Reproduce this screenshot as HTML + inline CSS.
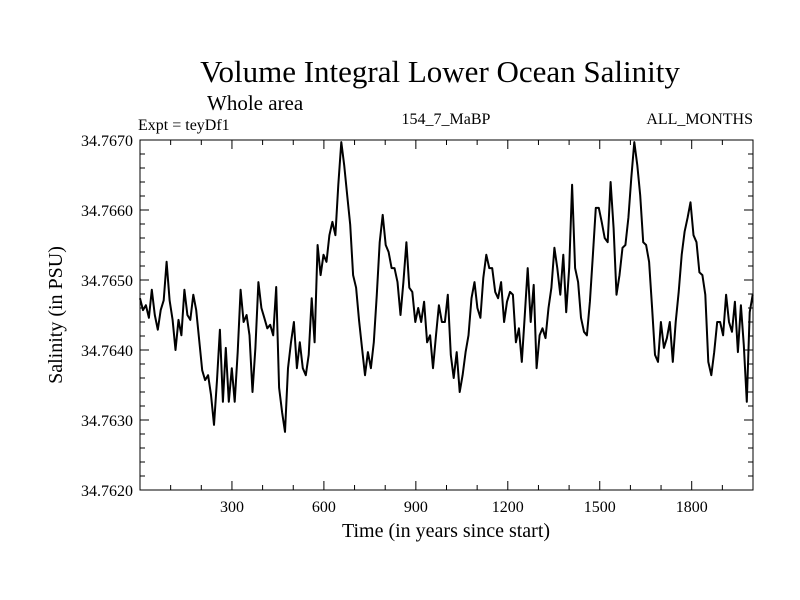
<!DOCTYPE html>
<html><head><meta charset="utf-8"><style>
body{margin:0;background:#fff}
svg{display:block;font-family:"Liberation Serif",serif}
</style></head><body>
<svg id="chart" width="800" height="600">
<rect width="800" height="600" fill="#fff"/>
<text x="440" y="82" font-size="31" text-anchor="middle">Volume Integral Lower Ocean Salinity</text>
<text x="207" y="110" font-size="21">Whole area</text>
<text x="138" y="130" font-size="16">Expt = teyDf1</text>
<text x="446" y="124" font-size="16" text-anchor="middle">154_7_MaBP</text>
<text x="753" y="124" font-size="16" text-anchor="end">ALL_MONTHS</text>
<text x="446" y="537" font-size="20" text-anchor="middle">Time (in years since start)</text>
<text transform="translate(62,315) rotate(-90)" font-size="20" text-anchor="middle">Salinity (in PSU)</text>
<g id="axes"></g>
<path id="line" fill="none" stroke="#000" stroke-width="2" stroke-linejoin="round"/>
<rect x="140" y="140" width="613" height="350" fill="none" stroke="#000" stroke-width="1"/>
</svg>
<script>
const yTicks=[34.762,34.763,34.764,34.765,34.766,34.767];
const yTickLabels=["34.7620","34.7630","34.7640","34.7650","34.7660","34.7670"];
const xTicks=[300,600,900,1200,1500,1800];
const xTickLabels=["300","600","900","1200","1500","1800"];
const salinity=[34.76474,34.76457,34.76464,34.76446,34.76486,34.76450,34.76429,34.76457,34.76471,34.76526,34.76471,34.76443,34.76400,34.76443,34.76421,34.76486,34.76450,34.76443,34.76479,34.76457,34.76414,34.76371,34.76357,34.76364,34.76336,34.76293,34.76357,34.76429,34.76326,34.76403,34.76326,34.76374,34.76326,34.76397,34.76486,34.76440,34.76450,34.76421,34.76340,34.76403,34.76497,34.76460,34.76446,34.76431,34.76436,34.76421,34.76490,34.76346,34.76311,34.76283,34.76374,34.76411,34.76440,34.76374,34.76411,34.76374,34.76364,34.76393,34.76474,34.76411,34.76550,34.76507,34.76536,34.76526,34.76564,34.76583,34.76564,34.76636,34.76697,34.76664,34.76621,34.76579,34.76507,34.76489,34.76443,34.76403,34.76364,34.76397,34.76374,34.76411,34.76479,34.76554,34.76593,34.76550,34.76540,34.76517,34.76517,34.76497,34.76450,34.76497,34.76554,34.76489,34.76483,34.76440,34.76460,34.76440,34.76469,34.76411,34.76421,34.76374,34.76421,34.76464,34.76440,34.76440,34.76479,34.76393,34.76360,34.76397,34.76340,34.76364,34.76397,34.76421,34.76474,34.76497,34.76460,34.76446,34.76503,34.76536,34.76517,34.76517,34.76483,34.76474,34.76497,34.76440,34.76469,34.76483,34.76479,34.76411,34.76431,34.76383,34.76450,34.76517,34.76440,34.76493,34.76374,34.76421,34.76431,34.76417,34.76460,34.76489,34.76546,34.76517,34.76479,34.76536,34.76454,34.76517,34.76636,34.76517,34.76497,34.76446,34.76426,34.76421,34.76469,34.76536,34.76603,34.76603,34.76583,34.76560,34.76554,34.76640,34.76574,34.76479,34.76507,34.76546,34.76550,34.76589,34.76646,34.76697,34.76664,34.76621,34.76554,34.76550,34.76526,34.76460,34.76393,34.76383,34.76440,34.76403,34.76417,34.76440,34.76383,34.76440,34.76483,34.76536,34.76569,34.76589,34.76611,34.76564,34.76554,34.76511,34.76507,34.76479,34.76383,34.76364,34.76397,34.76440,34.76440,34.76421,34.76479,34.76440,34.76426,34.76469,34.76397,34.76464,34.76407,34.76326,34.76454,34.76479];
const X0=140,X1=753,Y0=490,Y1=140,TMAX=2000,YMIN=34.762,YMAX=34.767;
const sx=t=>X0+(t/TMAX)*(X1-X0);
const sy=v=>Y0-(v-YMIN)/(YMAX-YMIN)*(Y0-Y1);
const NS="http://www.w3.org/2000/svg";
const axes=document.getElementById('axes');
function mk(tag,attrs){const e=document.createElementNS(NS,tag);for(const k in attrs)e.setAttribute(k,attrs[k]);axes.appendChild(e);return e;}
// minor x ticks every 100
for(let t=100;t<TMAX;t+=100){const x=sx(t);const L=(t%300===0)?9:5;
 const a=mk('line',{x1:x,x2:x,y1:Y0,y2:Y0-L,stroke:'#000'});
 
 
 const b=mk('line',{x1:x,x2:x,y1:Y1,y2:Y1+L,stroke:'#000'});
 
 }
xTicks.forEach((t,i)=>{const e=mk('text',{x:sx(t),y:512,'font-size':16,'text-anchor':'middle'});e.textContent=xTickLabels[i];
 
 });
for(let k=1;k<25;k++){const v=YMIN+k*0.0002;const y=sy(v);const L=(k%5===0)?9:5;
 const a=mk('line',{x1:X0,x2:X0+L,y1:y,y2:y,stroke:'#000'});
 
 
 const b=mk('line',{x1:X1,x2:X1-L,y1:y,y2:y,stroke:'#000'});
 
 }
yTicks.forEach((v,i)=>{const e=mk('text',{x:133,y:sy(v)+6,'font-size':16,'text-anchor':'end'});e.textContent=yTickLabels[i];
 
 });
const n=salinity.length;
let d='';salinity.forEach((v,i)=>{const t=i*(TMAX-1)/(n-1);d+=(i?'L':'M')+sx(t).toFixed(1)+','+sy(v).toFixed(1);});
document.getElementById('line').setAttribute('d',d);
</script>
</body></html>
